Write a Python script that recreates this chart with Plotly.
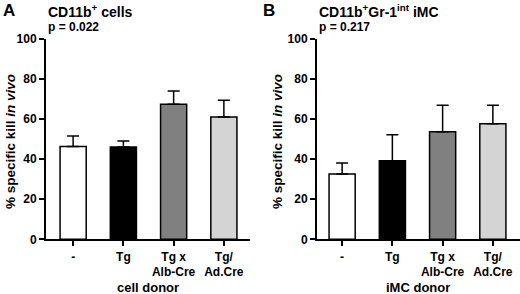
import plotly.graph_objects as go

categories = ["-", "Tg", "Tg x<br>Alb-Cre", "Tg/<br>Ad.Cre"]
bar_colors = ["#ffffff", "#000000", "#808080", "#d4d4d4"]

left_values = [46.2, 46.0, 67.2, 60.9]
left_sem = [5.3, 2.9, 6.7, 8.3]
right_values = [32.5, 39.1, 53.6, 57.6]
right_sem = [5.5, 13.0, 13.1, 9.2]

W, H = 520, 294
FONT = "Arial, Liberation Sans, sans-serif"

fig = go.Figure()
xpos = list(range(len(categories)))

for i, (vals, sem) in enumerate([(left_values, left_sem), (right_values, right_sem)]):
    suffix = "" if i == 0 else "2"
    fig.add_trace(go.Bar(
        x=xpos, y=vals, width=0.52,
        marker=dict(color=bar_colors, line=dict(color="black", width=1.5)),
        error_y=dict(type="data", symmetric=False, array=sem, arrayminus=[0] * len(sem),
                     color="black", thickness=1.5, width=6),
        xaxis="x" + suffix, yaxis="y" + suffix, showlegend=False, hoverinfo="skip",
    ))

ydom = [1 - 239.3 / H, 1 - 38.5 / H]
axis_common = dict(showline=True, linecolor="black", linewidth=2, ticks="outside",
                   tickcolor="black", tickwidth=2, ticklen=5, showgrid=False, zeroline=False,
                   automargin=False,
                   tickfont=dict(family=FONT, size=12, color="black", weight="bold"))

fig.update_layout(
    width=W, height=H, margin=dict(l=0, r=0, t=0, b=0),
    paper_bgcolor="white", plot_bgcolor="white", bargap=0,
    xaxis=dict(domain=[46 / W, 250 / W], range=[-0.54, 3.52], tickvals=xpos, ticktext=categories,
               anchor="y", **axis_common),
    yaxis=dict(domain=ydom, range=[0, 100], tickvals=[0, 20, 40, 60, 80, 100], anchor="x",
               **axis_common),
    xaxis2=dict(domain=[317 / W, 1.0], range=[-0.5, 3.54], tickvals=xpos, ticktext=categories,
                anchor="y2", **axis_common),
    yaxis2=dict(domain=ydom, range=[0, 100], tickvals=[0, 20, 40, 60, 80, 100], anchor="x2",
                **axis_common),
)

def ann(text, x, y, size, xanchor="left", yanchor="middle", angle=0):
    fig.add_annotation(text=text, x=x / W, y=1 - y / H, xref="paper", yref="paper",
                       xanchor=xanchor, yanchor=yanchor, showarrow=False, textangle=angle,
                       font=dict(family=FONT, size=size, color="black", weight="bold"))

ann("A", 1, 10, 17)
ann("B", 261, 10, 17)
ann("CD11b<sup>+</sup> cells", 46, 11, 14)
ann("CD11b<sup>+</sup>Gr-1<sup>int</sup> iMC", 317, 11, 14)
ann("p = 0.022", 46, 27, 12)
ann("p = 0.217", 317, 27, 12)
ann("% specific kill <i>in vivo</i>", 10, 142, 13.5, xanchor="center", angle=-90)
ann("% specific kill <i>in vivo</i>", 277, 142, 13.5, xanchor="center", angle=-90)
ann("cell donor", 148, 287, 13, xanchor="center")
ann("iMC donor", 418, 287, 13, xanchor="center")

fig.write_html("out.html", config={"displayModeBar": False, "staticPlot": True},
               post_script="document.body.style.margin='0';document.body.style.overflow='hidden';")
